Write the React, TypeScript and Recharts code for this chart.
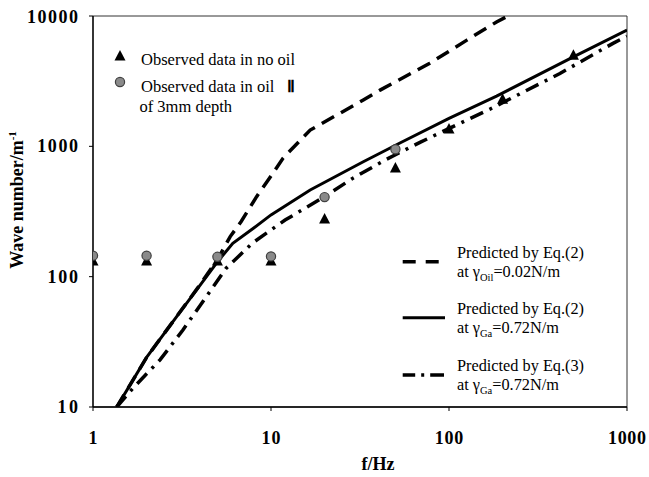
import React from 'react';
import { ComposedChart, XAxis, YAxis, Line, Scatter, ReferenceArea } from 'recharts';

// Tick labels
const xTicks = [1, 10, 100, 1000];
const yTicks = [10, 100, 1000, 10000];

// Observed data in no oil
const noOilF = [1, 2, 5, 10, 20, 50, 100, 200, 500];
const noOilK = [132, 132, 132, 132, 277, 682, 1358, 2300, 5000];

// Observed data in oil II of 3mm depth
const oilF = [1, 2, 5, 10, 20, 50];
const oilK = [145, 145, 142, 143, 408, 950];

// Predicted by Eq.(2) at gamma_Oil = 0.02 N/m (dashed)
const eq2OilF = [1.36, 2, 3, 4, 5, 5.9, 6.8, 8.3, 10, 11.7, 16.6, 33, 41, 78, 126, 185, 214];
const eq2OilK = [10, 24, 51, 87, 135, 203, 265, 411, 592, 813, 1333, 2265, 2700, 4345, 6530, 9000, 10000];

// Predicted by Eq.(2) at gamma_Ga = 0.72 N/m (solid)
const eq2GaF = [1.36, 2, 3, 4, 5, 6.1, 8, 10, 16.6, 33, 53, 100, 185, 500, 1000];
const eq2GaK = [10, 24, 51, 86, 130, 180, 236, 298, 462, 762, 1060, 1640, 2430, 4860, 7800];

// Predicted by Eq.(3) at gamma_Ga = 0.72 N/m (dash-dot)
const eq3GaF = [1.36, 1.68, 2.38, 3.2, 4.26, 5.6, 7.9, 12, 20, 28.4, 43.7, 68.7, 170, 420, 834, 1000];
const eq3GaK = [10, 14, 23, 39, 68, 116, 182, 272, 411, 562, 785, 1073, 1932, 3625, 6166, 7000];

const toRows = (fs: number[], ks: number[]) => fs.map((f, i) => ({ f, k: ks[i] }));

const noOil = toRows(noOilF, noOilK);
const oil = toRows(oilF, oilK);
const eq2Oil = toRows(eq2OilF, eq2OilK);
const eq2Ga = toRows(eq2GaF, eq2GaK);
const eq3Ga = toRows(eq3GaF, eq3GaK);

const SERIF = '"Liberation Serif", "Times New Roman", serif';

const Triangle = (props: any) => {
  const { cx, cy } = props;
  if (cx == null || cy == null) return null;
  return <path d={`M${cx},${cy - 6} L${cx + 5.5},${cy + 4.5} L${cx - 5.5},${cy + 4.5} Z`} fill="#000" />;
};

const Dot = (props: any) => {
  const { cx, cy } = props;
  if (cx == null || cy == null) return null;
  return <circle cx={cx} cy={cy} r={4.6} fill="#8a8a8a" stroke="#404040" strokeWidth={1.2} />;
};

const XTick = (props: any) => {
  const { x, y, payload } = props;
  const s = String(payload.value);
  const extra = s.length > 1 ? { textLength: 9.5 * s.length, lengthAdjust: 'spacing' } : {};
  return (
    <text x={x} y={y} dy="0.71em" textAnchor="middle" fontFamily={SERIF} fontSize={18} fontWeight="bold" fill="#000" {...extra}>
      {s}
    </text>
  );
};

const YTick = (props: any) => {
  const { x, y, payload } = props;
  const s = String(payload.value);
  return (
    <text x={x} y={y} dy="0.34em" textAnchor="end" fontFamily={SERIF} fontSize={18} fontWeight="bold" fill="#000" textLength={10.2 * s.length} lengthAdjust="spacing">
      {s}
    </text>
  );
};

// Legend and axis titles, in page coordinates
const Overlay = () => (
  <svg width={649} height={477} style={{ position: 'absolute', left: 0, top: 0, pointerEvents: 'none' }}>
    <g fontFamily={SERIF} fill="#000">
      <text x={378} y={469.5} textAnchor="middle" fontSize={18} fontWeight="bold">f/Hz</text>
      <text x={23} y={200} textAnchor="middle" fontSize={18} fontWeight="bold" transform="rotate(-90 23 200)">
        Wave number/m<tspan fontSize={11} dy={-7}>-1</tspan>
      </text>

      <path d="M120,50 L125.5,60.5 L114.5,60.5 Z" fill="#000" />
      <text x={141} y={65} fontSize={16.5}>Observed data in no oil</text>
      <circle cx={120} cy={82} r={4.6} fill="#8a8a8a" stroke="#404040" strokeWidth={1.2} />
      <text x={141} y={91.5} fontSize={16.5}>Observed data in oil</text>
      <text x={286.5} y={91.5} fontSize={16} fontWeight="bold">{'\u2161'}</text>
      <text x={139.5} y={111.5} fontSize={16.5}>of 3mm depth</text>

      <line x1={402.7} y1={261.7} x2={439.3} y2={261.7} stroke="#000" strokeWidth={3.5} strokeDasharray="13 10" />
      <text x={457} y={257.7} fontSize={16.3}>Predicted by Eq.(2)</text>
      <text x={457} y={276.7} fontSize={16.3}>
        at γ<tspan fontSize={10.5} dy={4}>Oil</tspan><tspan dy={-4}>=0.02N/m</tspan>
      </text>

      <line x1={402.7} y1={317.7} x2={445} y2={317.7} stroke="#000" strokeWidth={3} />
      <text x={457} y={314.3} fontSize={16.3}>Predicted by Eq.(2)</text>
      <text x={457} y={333} fontSize={16.3}>
        at γ<tspan fontSize={10.5} dy={4}>Ga</tspan><tspan dy={-4}>=0.72N/m</tspan>
      </text>

      <line x1={402.7} y1={375} x2={444} y2={375} stroke="#000" strokeWidth={3.5} strokeDasharray="12.5 6 3 6 14" />
      <text x={457} y={371} fontSize={16.3}>Predicted by Eq.(3)</text>
      <text x={457} y={390} fontSize={16.3}>
        at γ<tspan fontSize={10.5} dy={4}>Ga</tspan><tspan dy={-4}>=0.72N/m</tspan>
      </text>
    </g>
  </svg>
);

export default function App() {
  return (
    <div style={{ position: 'relative', width: 649, height: 477, background: '#fff' }}>
      <style>{`body { margin: 0; }`}</style>
      <div style={{ position: 'absolute', left: 8, top: 8, width: 641, height: 469 }}>
        <ComposedChart width={641} height={469} margin={{ top: 8, right: 22, bottom: 10, left: 0 }}>
          <XAxis
            type="number"
            dataKey="f"
            scale="log"
            domain={[1, 1000]}
            ticks={xTicks}
            allowDataOverflow
            height={60}
            tickSize={4}
            tickMargin={20}
            tick={<XTick />}
            axisLine={{ stroke: '#000', strokeWidth: 1.3 }}
            tickLine={{ stroke: '#000' }}
          />
          <YAxis
            type="number"
            dataKey="k"
            scale="log"
            domain={[10, 10000]}
            ticks={yTicks}
            allowDataOverflow
            width={85}
            tickSize={4}
            tickMargin={11}
            tick={<YTick />}
            axisLine={{ stroke: '#000', strokeWidth: 1.3 }}
            tickLine={{ stroke: '#000' }}
          />
          <ReferenceArea x1={1} x2={1000} y1={10} y2={10000} fill="none" fillOpacity={0} stroke="#333" strokeWidth={1} ifOverflow="visible" />
          <Line data={eq2Oil} dataKey="k" type="linear" stroke="#000" strokeWidth={3.5} strokeDasharray="14 8" dot={false} isAnimationActive={false} />
          <Line data={eq2Ga} dataKey="k" type="linear" stroke="#000" strokeWidth={3} dot={false} isAnimationActive={false} />
          <Line data={eq3Ga} dataKey="k" type="linear" stroke="#000" strokeWidth={3.5} strokeDasharray="14 7 3 7" dot={false} isAnimationActive={false} />
          <Scatter data={noOil} dataKey="k" shape={<Triangle />} isAnimationActive={false} />
          <Scatter data={oil} dataKey="k" shape={<Dot />} isAnimationActive={false} />
        </ComposedChart>
      </div>
      <Overlay />
    </div>
  );
}
